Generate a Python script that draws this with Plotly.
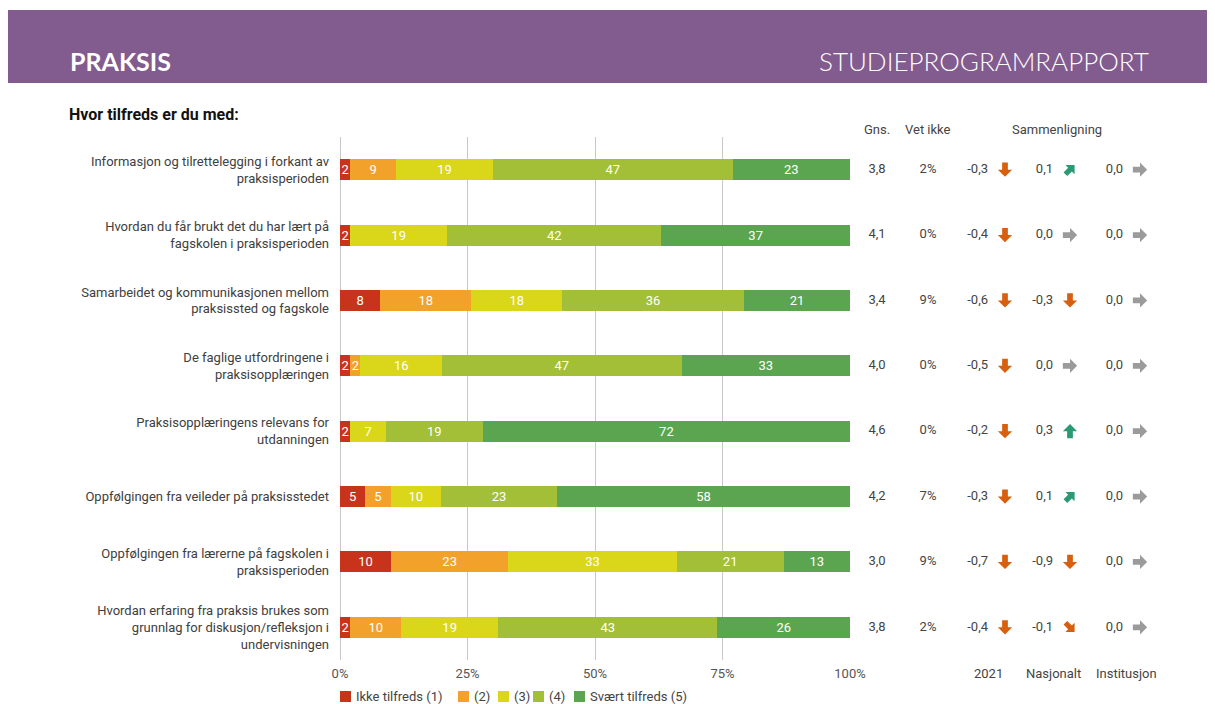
import math
import plotly.graph_objects as go

# data
questions = [
    "Informasjon og tilrettelegging i forkant av<br>praksisperioden",
    "Hvordan du får brukt det du har lært på<br>fagskolen i praksisperioden",
    "Samarbeidet og kommunikasjonen mellom<br>praksissted og fagskole",
    "De faglige utfordringene i<br>praksisopplæringen",
    "Praksisopplæringens relevans for<br>utdanningen",
    "Oppfølgingen fra veileder på praksisstedet",
    "Oppfølgingen fra lærerne på fagskolen i<br>praksisperioden",
    "Hvordan erfaring fra praksis brukes som<br>grunnlag for diskusjon/refleksjon i<br>undervisningen",
]
levels = ["Ikke tilfreds (1)", "(2)", "(3)", "(4)", "Svært tilfreds (5)"]
level1 = [2, 2, 8, 2, 2, 5, 10, 2]
level2 = [9, 0, 18, 2, 0, 5, 23, 10]
level3 = [19, 19, 18, 16, 7, 10, 33, 19]
level4 = [47, 42, 36, 47, 19, 23, 21, 43]
level5 = [23, 37, 21, 33, 72, 58, 13, 26]
gns = [3.8, 4.1, 3.4, 4.0, 4.6, 4.2, 3.0, 3.8]
vet_ikke = [2, 0, 9, 0, 0, 7, 9, 2]
diff_2021 = [-0.3, -0.4, -0.6, -0.5, -0.2, -0.3, -0.7, -0.4]
diff_nasjonalt = [0.1, 0.0, -0.3, 0.0, 0.3, 0.1, -0.9, -0.1]
diff_institusjon = [0.0, 0.0, 0.0, 0.0, 0.0, 0.0, 0.0, 0.0]
x_ticks = [0, 25, 50, 75, 100]
x_ticktext = ["0%", "25%", "50%", "75%", "100%"]

colors = ["#c8341b", "#f2a22a", "#dad61a", "#a2bf37", "#5ba551"]
FONT = "Roboto, Arial, sans-serif"
TXT = "#444444"

# page has an 8px body margin; positions below are page pixels
OFF = 8
L, R, T, B = 340, 1165, 137, 660
W, H = 1215 - OFF, 704 - OFF


def px(x):
    return (x - L) / (R - L)


def py(y):
    return (B - y) / (B - T)


def fmt(v):
    return f"{v:.1f}".replace(".", ",")


def arrow(v):
    # angle of the arrow (degrees, 90 = up), size and colour
    if v <= -0.2:
        return -90, 1.1, "#d6600f"
    if v < 0:
        return -45, 1.0, "#d6600f"
    if v >= 0.2:
        return 90, 1.1, "#2a9a72"
    if v > 0:
        return 45, 1.0, "#2a9a72"
    return 0, 1.1, "#9b9b9b"


# block arrow glyph pointing right, in pixels (y up)
GLYPH = [(-6.5, -2.6), (0, -2.6), (0, -6.5), (6.5, 0), (0, 6.5), (0, 2.6), (-6.5, 2.6)]


def arrow_path(angle, scale):
    a = math.radians(angle)
    pts = []
    for gx, gy in GLYPH:
        pts.append((scale * (gx * math.cos(a) - gy * math.sin(a)),
                    scale * (gx * math.sin(a) + gy * math.cos(a))))
    return "M" + "L".join(f"{x:.2f},{y:.2f}" for x, y in pts) + "Z"


fig = go.Figure()

for name, vals, c in zip(levels, [level1, level2, level3, level4, level5], colors):
    fig.add_trace(go.Bar(
        y=questions, x=vals, name=name, orientation="h",
        marker=dict(color=c, line=dict(width=0)),
        text=[str(v) if v else "" for v in vals],
        textposition="inside", insidetextanchor="middle", textangle=0,
        textfont=dict(color="white", size=13, family=FONT),
        width=0.32, hoverinfo="skip", showlegend=False,
    ))

# right hand columns on a second x axis measured in page pixels
col_x = {"gns": 877, "vet": 928, "c1": 988, "c2": 1053, "c3": 1123}
fig.add_trace(go.Scatter(
    x=[col_x["gns"]] * len(questions), y=questions, mode="text",
    text=[fmt(v) for v in gns], textposition="middle center",
    textfont=dict(size=13, color=TXT, family=FONT),
    xaxis="x2", showlegend=False, hoverinfo="skip"))
fig.add_trace(go.Scatter(
    x=[col_x["vet"]] * len(questions), y=questions, mode="text",
    text=[f"{v}%" for v in vet_ikke], textposition="middle center",
    textfont=dict(size=13, color=TXT, family=FONT),
    xaxis="x2", showlegend=False, hoverinfo="skip"))

shapes = [dict(type="rect", xref="paper", yref="paper", x0=px(8), x1=px(1215),
               y0=py(83), y1=py(10), fillcolor="#825b8f", line=dict(width=0), layer="below")]
for key, diffs in [("c1", diff_2021), ("c2", diff_nasjonalt), ("c3", diff_institusjon)]:
    fig.add_trace(go.Scatter(
        x=[col_x[key]] * len(questions), y=questions, mode="text",
        text=[fmt(v) for v in diffs], textposition="middle left",
        textfont=dict(size=13, color=TXT, family=FONT),
        xaxis="x2", showlegend=False, hoverinfo="skip"))
    for i, v in enumerate(diffs):
        ang, sc, col = arrow(v)
        shapes.append(dict(
            type="path", xref="x2", yref="y", xsizemode="pixel", ysizemode="pixel",
            xanchor=col_x[key] + 17, yanchor=i, path=arrow_path(ang, sc),
            fillcolor=col, line=dict(width=0),
        ))

ann = []
# header
ann.append(dict(x=px(68), y=py(61), xref="paper", yref="paper", text="<b>PRAKSIS</b>",
                showarrow=False, xanchor="left", yanchor="middle",
                font=dict(size=25, color="white", family="Lato, " + FONT)))
ann.append(dict(x=px(1151), y=py(61), xref="paper", yref="paper", text="STUDIEPROGRAMRAPPORT",
                showarrow=False, xanchor="right", yanchor="middle",
                font=dict(size=26, color="white", family="Lato, " + FONT, weight=300)))
ann.append(dict(x=px(67), y=py(115), xref="paper", yref="paper", text="<b>Hvor tilfreds er du med:</b>",
                showarrow=False, xanchor="left", yanchor="middle",
                font=dict(size=16, color="#111111", family=FONT)))
for t, xx in [("Gns.", 877), ("Vet ikke", 928), ("Sammenligning", 1057)]:
    ann.append(dict(x=px(xx), y=py(130), xref="paper", yref="paper", text=t, showarrow=False,
                    xanchor="center", yanchor="middle", font=dict(size=13, color=TXT, family=FONT)))
for t, xx in [("2021", 988), ("Nasjonalt", 1053), ("Institusjon", 1126)]:
    ann.append(dict(x=px(xx), y=py(673), xref="paper", yref="paper", text=t, showarrow=False,
                    xanchor="center", yanchor="middle", font=dict(size=13, color=TXT, family=FONT)))

# legend drawn by hand (tight spacing as in the report)
legend_x = [340, 458, 498, 533, 574]
for name, c, lx in zip(levels, colors, legend_x):
    shapes.append(dict(type="rect", xref="paper", yref="paper", x0=px(lx), x1=px(lx + 11),
                       y0=py(702), y1=py(691), fillcolor=c, line=dict(width=0)))
    ann.append(dict(x=px(lx + 14), y=py(696), xref="paper", yref="paper", text=name,
                    showarrow=False, xanchor="left", yanchor="middle",
                    font=dict(size=13, color=TXT, family=FONT)))

fig.update_layout(
    width=W, height=H,
    margin=dict(l=L - OFF, r=W - (R - OFF), t=T - OFF, b=H - (B - OFF), pad=0, autoexpand=False),
    barmode="stack", barnorm="percent",
    plot_bgcolor="white", paper_bgcolor="white",
    font=dict(family=FONT, size=13, color=TXT),
    uniformtext=dict(minsize=13, mode="show"),
    showlegend=False,
    xaxis=dict(domain=[0, px(850)], range=[0, 100], tickvals=x_ticks, ticktext=x_ticktext,
               showgrid=True, gridcolor="#c8c8c8", gridwidth=1.3,
               zeroline=True, zerolinecolor="#c8c8c8", zerolinewidth=1.3,
               ticks="", ticklabelstandoff=4, tickfont=dict(size=13, color="#555555"),
               fixedrange=True, automargin=False),
    xaxis2=dict(domain=[px(850), 1], range=[850, R], visible=False, anchor="y", fixedrange=True),
    yaxis=dict(autorange="reversed", showgrid=False, ticks="", automargin=False,
               ticklabelstandoff=10, tickfont=dict(size=13, color="#404040"), fixedrange=True),
    shapes=shapes,
    annotations=ann,
)

fig.write_html("out.html")
